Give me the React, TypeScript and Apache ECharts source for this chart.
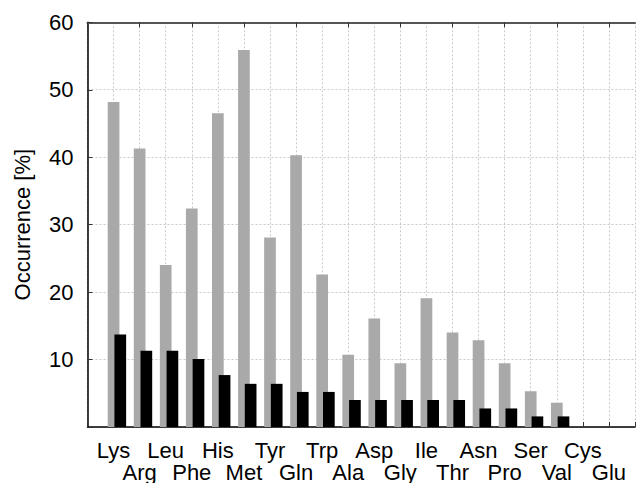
import React, { useEffect, useRef } from "react";
import * as echarts from "echarts";

const aminoAcids = [
  "Lys", "Arg", "Leu", "Phe", "His", "Met", "Tyr", "Gln", "Trp", "Ala",
  "Asp", "Gly", "Ile", "Thr", "Asn", "Pro", "Ser", "Val", "Cys", "Glu",
];
const grayValues = [
  48.2, 41.3, 24.0, 32.4, 46.5, 55.9, 28.1, 40.3, 22.6, 10.7,
  16.1, 9.45, 19.1, 14.0, 12.85, 9.45, 5.3, 3.6, 0, 0,
];
const blackValues = [
  13.7, 11.3, 11.3, 10.1, 7.7, 6.4, 6.4, 5.2, 5.2, 4.0,
  4.0, 4.0, 4.0, 4.0, 2.75, 2.75, 1.57, 1.57, 0, 0,
];
const yTicks = [0, 10, 20, 30, 40, 50, 60];

const FONT = "'Liberation Sans', Arial, Helvetica, sans-serif";

export default function App() {
  const ref = useRef<HTMLDivElement>(null);
  useEffect(() => {
    if (!ref.current) return;
    const chart = echarts.init(ref.current, null, { renderer: "svg" });
    const cats = ["", ...aminoAcids, ""];
    const pad = (arr: number[]) => [null, ...arr, null];
    const barW = 11.7;
    const gap = "-42.7%";
    chart.setOption({
      animation: false,
      backgroundColor: "#ffffff",
      textStyle: { fontFamily: FONT },
      grid: { left: 87.5, top: 22.3, width: 559, height: 406, containLabel: false },
      xAxis: [
        {
          type: "category",
          data: cats,
          boundaryGap: false,
          position: "bottom",
          axisLine: { lineStyle: { color: "#000", width: 1.5 } },
          axisTick: { inside: true, length: 5, lineStyle: { color: "#333" } },
          axisLabel: {
            interval: 0,
            margin: 12,
            fontSize: 22,
            lineHeight: 22,
            color: "#000",
            fontFamily: FONT,
            formatter: (v: string, i: number) => (i % 2 === 1 ? v : "\n" + v),
          },
          splitLine: {
            show: true,
            lineStyle: { color: "#c8c8c8", type: [2, 2], width: 1 },
          },
        },
        {
          type: "category",
          data: cats,
          boundaryGap: false,
          position: "top",
          axisLine: { lineStyle: { color: "#555", width: 2 } },
          axisTick: { inside: true, length: 5, lineStyle: { color: "#333" } },
          axisLabel: { show: false },
          splitLine: { show: false },
        },
      ],
      yAxis: {
        type: "value",
        min: yTicks[0],
        max: yTicks[yTicks.length - 1],
        interval: 10,
        name: "Occurrence [%]",
        nameLocation: "middle",
        nameGap: 54,
        nameTextStyle: { fontSize: 22, color: "#000", fontFamily: FONT },
        axisLine: { show: true, lineStyle: { color: "#000", width: 1.5 } },
        axisTick: { show: true, inside: true, length: 5, lineStyle: { color: "#333" } },
        axisLabel: {
          margin: 14,
          fontSize: 22,
          color: "#000",
          fontFamily: FONT,
          formatter: (v: number) => (v === 0 ? "" : String(v)),
        },
        splitLine: {
          show: true,
          lineStyle: { color: "#c8c8c8", type: [2, 2], width: 1 },
        },
      },
      series: [
        {
          type: "bar",
          name: "spacer",
          data: [],
          barWidth: barW,
          barGap: gap,
          xAxisIndex: 0,
        },
        {
          type: "bar",
          name: "total",
          data: pad(grayValues),
          barWidth: barW,
          barGap: gap,
          xAxisIndex: 0,
          itemStyle: { color: "#a9a9a9" },
        },
        {
          type: "bar",
          name: "subset",
          data: pad(blackValues),
          barWidth: barW,
          barGap: gap,
          xAxisIndex: 0,
          itemStyle: { color: "#000000" },
        },
      ],
    });
    return () => chart.dispose();
  }, []);
  return (
    <div
      ref={ref}
      style={{ position: "fixed", left: 0, top: 0, width: 638, height: 483 }}
    />
  );
}
